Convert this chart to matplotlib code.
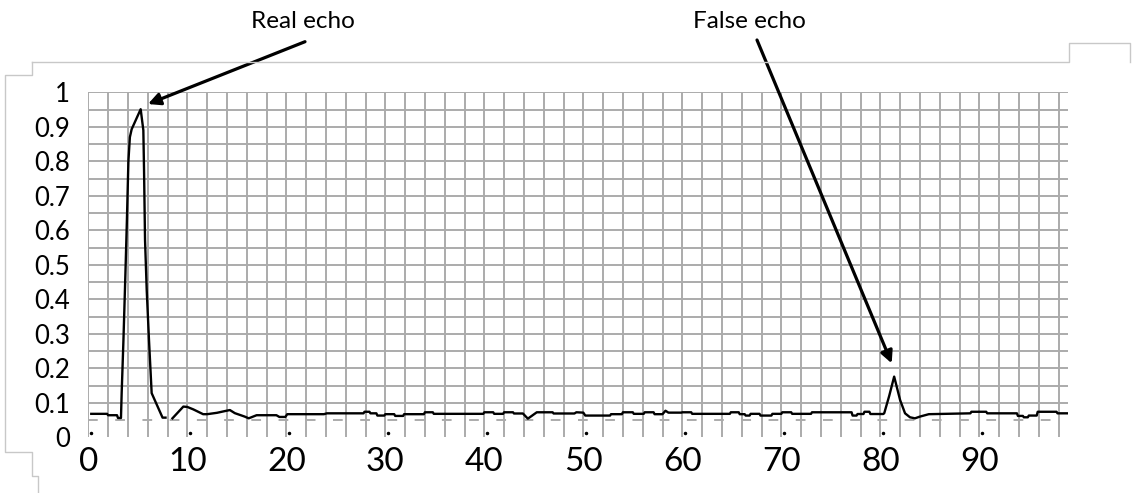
import numpy as np
import matplotlib.pyplot as plt
from matplotlib.lines import Line2D

plt.rcParams['font.family'] = ['Lato', 'DejaVu Sans']

W, H = 1132, 493

# echo amplitude vs distance (trace has a small gap near x=8)
dist_a = [0.3, 1.9, 2.0, 2.9, 3.0, 3.3, 3.37, 3.55, 3.75, 3.9, 4.05, 4.2, 4.38,
          5.29, 5.56, 5.63, 5.73, 5.9, 6.13, 6.4, 7.5, 7.8]
amp_a = [0.068, 0.068, 0.064, 0.064, 0.056, 0.056, 0.128, 0.282, 0.476, 0.63, 0.80, 0.87, 0.893,
         0.951, 0.89, 0.775, 0.572, 0.427, 0.282, 0.128, 0.057, 0.057]

dist_b = [8.5, 9.6, 10.0, 10.6, 11.6, 12.0, 13.0, 13.8, 14.3, 14.8, 15.8, 16.2, 17.0,
          19.0, 19.3, 19.9, 20.1, 23.8, 24.1,
          27.8, 27.9, 28.4, 28.5, 29.1, 29.2, 29.9, 30.0, 30.9, 31.0, 31.8, 31.9, 33.9, 34.0,
          34.8, 34.9, 39.9, 40.0, 40.9, 41.0, 41.9, 42.0, 42.9, 43.0, 43.9, 44.4, 45.3,
          46.9, 47.0, 49.1, 49.3, 50.0, 50.2, 52.7, 52.8, 53.9, 54.0, 55.0, 55.1, 56.1, 56.2,
          57.1, 57.2, 58.0, 58.3, 58.6, 59.9, 60.0, 60.9, 61.0, 64.8, 64.9, 65.7, 65.8,
          66.3, 66.4, 66.8, 66.9, 67.8, 67.9, 69.0, 69.1, 70.0, 70.1, 71.0, 71.1, 73.0, 73.1,
          77.1, 77.2, 77.6, 77.7, 78.3, 78.4, 78.9, 79.0, 80.3, 80.4, 80.9, 81.4, 82.0, 82.5,
          83.0, 83.5, 84.0, 84.9, 89.1, 89.2, 90.7, 90.8, 93.8, 93.9, 94.4, 94.5, 94.9, 95.0,
          95.8, 95.9, 97.8, 97.9, 99.0]
amp_b = [0.055, 0.089, 0.088, 0.081, 0.067, 0.067, 0.071, 0.076, 0.079, 0.070, 0.060, 0.055, 0.064,
         0.064, 0.059, 0.059, 0.067, 0.067, 0.0695,
         0.0695, 0.074, 0.074, 0.0695, 0.0695, 0.063, 0.063, 0.067, 0.067, 0.062, 0.062, 0.067, 0.067, 0.0725,
         0.0725, 0.068, 0.068, 0.0725, 0.0725, 0.068, 0.068, 0.0725, 0.0725, 0.069, 0.069, 0.054, 0.0725,
         0.0725, 0.069, 0.069, 0.0725, 0.0715, 0.063, 0.063, 0.067, 0.067, 0.0725, 0.0725, 0.068, 0.068, 0.0725,
         0.0725, 0.067, 0.067, 0.077, 0.0715, 0.0715, 0.0725, 0.0725, 0.068, 0.068, 0.0725, 0.0725, 0.067,
         0.067, 0.063, 0.063, 0.068, 0.068, 0.063, 0.063, 0.068, 0.068, 0.0725, 0.0725, 0.068, 0.068, 0.0725,
         0.0725, 0.063, 0.063, 0.0675, 0.0675, 0.074, 0.074, 0.0675, 0.0675, 0.07, 0.12, 0.176, 0.108, 0.0695,
         0.058, 0.055, 0.060, 0.067, 0.0695, 0.074, 0.074, 0.0695, 0.0695, 0.062, 0.062, 0.058, 0.058, 0.063,
         0.063, 0.074, 0.074, 0.0695, 0.0695]

x_ticks = list(range(0, 100, 10))
y_ticks = [0, 0.1, 0.2, 0.3, 0.4, 0.5, 0.6, 0.7, 0.8, 0.9, 1.0]
y_labels = ["0", "0.1", "0.2", "0.3", "0.4", "0.5", "0.6", "0.7", "0.8", "0.9", "1"]

fig = plt.figure(figsize=(W / 100, H / 100), dpi=100)
ax = fig.add_axes([88.3 / W, (H - 437.3) / H, 99 * 9.9 / W, 345 / H])
ax.set_xlim(0, 99)
ax.set_ylim(0, 1)
for s in ax.spines.values():
    s.set_visible(False)

grid_c = '#ababab'
ax.vlines(np.arange(0, 99, 2), 0, 1, color=grid_c, lw=1.4, zorder=1)
ax.hlines(np.arange(0.1, 1.001, 0.05), 0, 99, color=grid_c, lw=1.4, zorder=1)
ax.hlines(0.05, 0, 99, color=grid_c, lw=1.4, linestyles=(0, (5, 9)), zorder=1)

ax.plot(dist_a, amp_a, color='black', lw=1.7, zorder=3)
ax.plot(dist_b, amp_b, color='black', lw=1.7, zorder=3)

# little scan marks under each x label
ax.plot(np.array(x_ticks) + 0.3, [0.012] * len(x_ticks), ls='none', marker='.', ms=3, color='black')

ax.set_xticks(x_ticks)
ax.set_yticks(y_ticks)
ax.set_yticklabels(y_labels)
ax.tick_params(axis='x', length=0, labelsize=24, pad=7)
ax.tick_params(axis='y', length=0, labelsize=18.5, pad=13)

ax.annotate("", xy=(6.03, 0.966), xycoords='data',
            xytext=(305 / W, 1 - 41.7 / H), textcoords='figure fraction',
            arrowprops=dict(arrowstyle='-|>', color='black', lw=2.3, mutation_scale=18,
                            shrinkA=0, shrinkB=0))
ax.annotate("", xy=(81.15, 0.2145), xycoords='data',
            xytext=(757 / W, 1 - 40 / H), textcoords='figure fraction',
            arrowprops=dict(arrowstyle='-|>', color='black', lw=2.3, mutation_scale=18,
                            shrinkA=0, shrinkB=0))
fig.text(303 / W, 1 - 21 / H, "Real echo", ha='center', va='center', fontsize=17.5)
fig.text(749 / W, 1 - 22 / H, "False echo", ha='center', va='center', fontsize=17.5)

# light frame left over from the screenshot
def frame(pts):
    xs = [p[0] / W for p in pts]
    ys = [1 - p[1] / H for p in pts]
    fig.add_artist(Line2D(xs, ys, transform=fig.transFigure, color='#c8c8c8', lw=1))

frame([(32, 61.5), (1069, 61.5), (1069, 43), (1130, 43), (1130, 62)])
frame([(32, 61.5), (32, 75), (5, 75), (5, 452), (32, 452), (32, 476), (38, 476), (38, 493)])

fig.savefig('out.png', dpi=100)
